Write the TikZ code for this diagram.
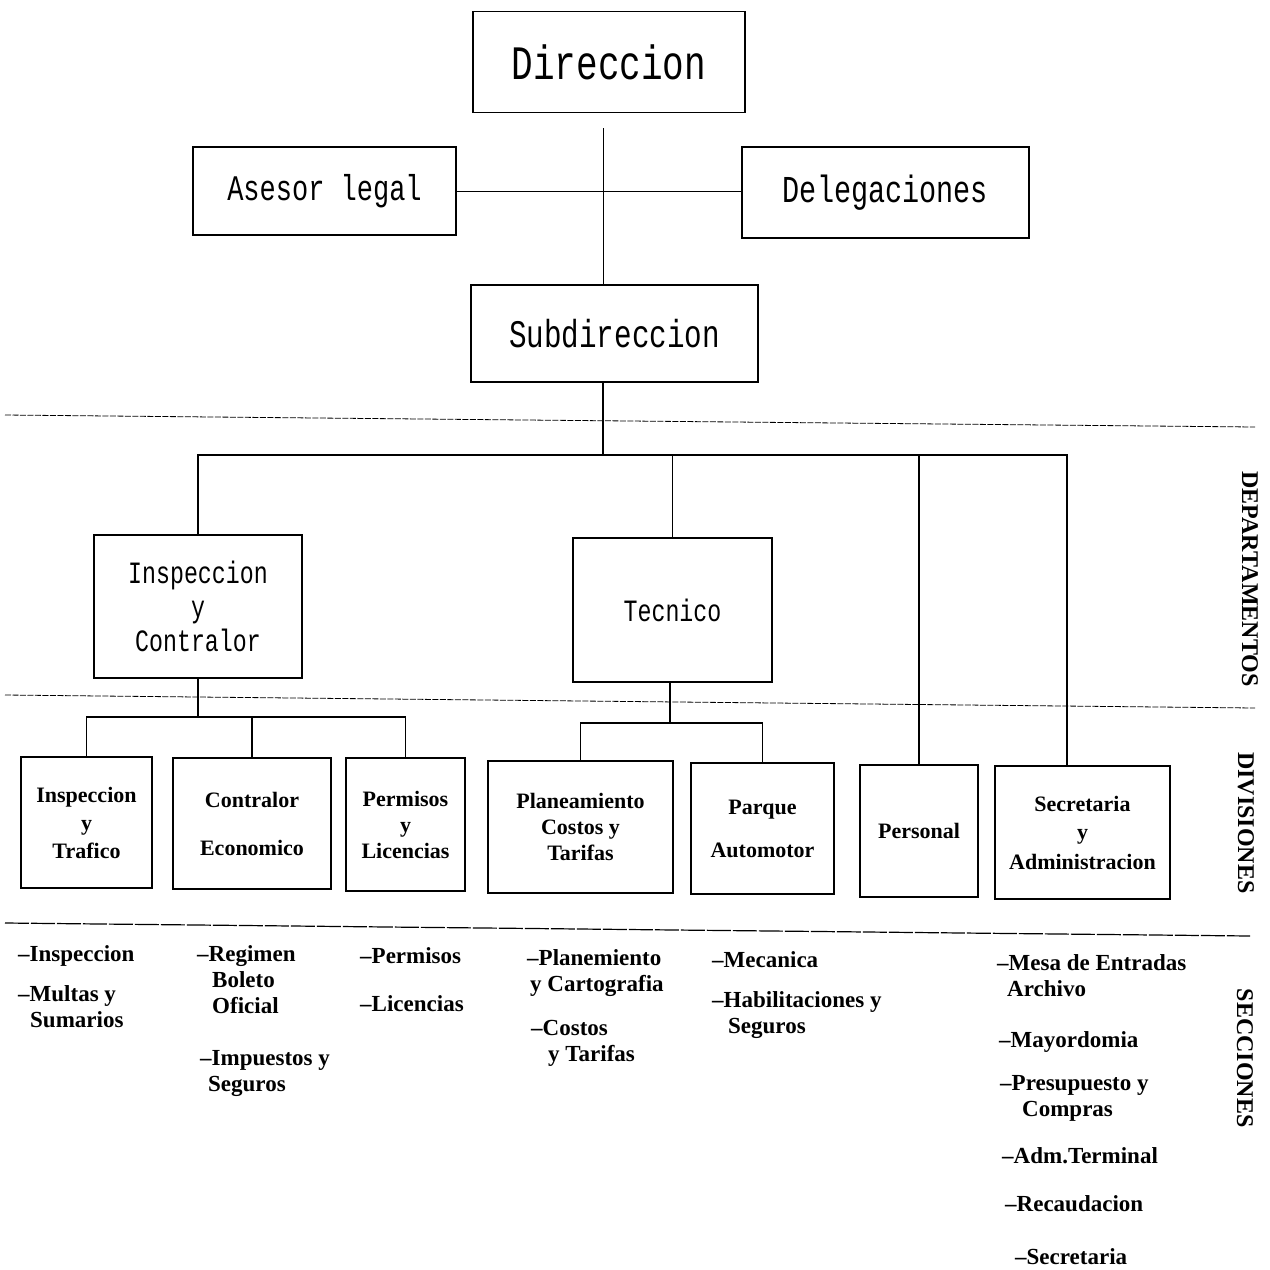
\documentclass[tikz,border=0pt]{standalone}
\usepackage{fontspec}
\setmainfont{Liberation Serif}
\newfontfamily\boxfont[FakeStretch=0.75]{Liberation Mono}
\usetikzlibrary{positioning}

\begin{document}
\begin{tikzpicture}[
  x=1pt, y=-1pt,
  topbox/.style  = {rectangle, draw, line width=1.6pt, align=center, inner sep=0pt},
  divbox/.style  = {rectangle, draw, line width=2pt, align=center, inner sep=0pt,
                    font=\bfseries\fontsize{22}{26}\selectfont},
  seccion/.style = {anchor=north west, align=left, inner sep=0pt,
                    font=\bfseries\fontsize{23}{26}\selectfont},
  nivel/.style   = {rotate=-90, inner sep=0pt, font=\bfseries\fontsize{24}{24}\selectfont},
  link/.style    = {line width=1.6pt},
  thinlink/.style = {line width=0.9pt},
  sepline/.style = {line width=0.8pt, dash pattern=on 6pt off 1.5pt}
]
\useasboundingbox (0,0) rectangle (1270,1270);

% Nodes
\node[topbox, minimum width=272, minimum height=101,
      font=\boxfont\fontsize{48}{48}\selectfont] (dir) at (609,62) {Direccion};
\node[topbox, minimum width=263, minimum height=88,
      font=\boxfont\fontsize{36}{36}\selectfont] (asesor) at (324.5,191) {Asesor legal};
\node[topbox, minimum width=287, minimum height=91,
      font=\boxfont\fontsize{38}{38}\selectfont] (deleg) at (885.5,192.5) {Delegaciones};
\node[topbox, minimum width=287, minimum height=97,
      font=\boxfont\fontsize{39}{39}\selectfont] (subdir) at (614.5,333.5) {Subdireccion};

\node[topbox, minimum width=208, minimum height=143,
      font=\boxfont\fontsize{31}{34}\selectfont] (insp) at (198,606.5) {Inspeccion\\y\\Contralor};
\node[topbox, minimum width=199, minimum height=144,
      font=\boxfont\fontsize{31}{34}\selectfont] (tec) at (672.5,610) {Tecnico};

% Divisiones
\node[divbox, minimum width=131, minimum height=131] (divInsp) at (86.5,822.5) {Inspeccion\\[2pt]y\\[2pt]Trafico};
\node[divbox, minimum width=158, minimum height=131] (divCont) at (252,823.5) {Contralor\\[22pt]Economico};
\node[divbox, minimum width=119, minimum height=133] (divPerm) at (405.5,824.5) {Permisos\\y\\Licencias};
\node[divbox, minimum width=185, minimum height=132] (divPlan) at (580.5,827) {Planeamiento\\Costos y\\Tarifas};
\node[divbox, minimum width=143, minimum height=131] (divParq) at (762.5,828.5) {Parque\\[17pt]Automotor};
\node[divbox, minimum width=118, minimum height=132] (divPers) at (919,831) {Personal};
\node[divbox, minimum width=175, minimum height=133] (divSecr) at (1082.5,832.5) {Secretaria\\[2pt]y\\[4pt]Administracion};

% Secciones
\node[seccion] (s1a) at (18,945) {--Inspeccion};
\node[seccion] (s1b) at (18,985) {--Multas y\\\hspace*{12pt}Sumarios};
\node[seccion] (s2a) at (197,945) {--Regimen\\\hspace*{15pt}Boleto\\\hspace*{15pt}Oficial};
\node[seccion] (s2b) at (200,1050) {--Impuestos y\\\hspace*{8pt}Seguros};
\node[seccion] (s3a) at (360,947) {--Permisos};
\node[seccion] (s3b) at (360,995) {--Licencias};
\node[seccion] (s4a) at (527,949) {--Planemiento\\\hspace*{3pt}y Cartografia};
\node[seccion] (s4b) at (531,1020) {--Costos\\\hspace*{17pt}y Tarifas};
\node[seccion] (s5a) at (712,951) {--Mecanica};
\node[seccion] (s5b) at (712,991) {--Habilitaciones y\\\hspace*{16pt}Seguros};
\node[seccion] (s6a) at (997,954) {--Mesa de Entradas\\\hspace*{10pt}Archivo};
\node[seccion] (s6b) at (999,1031) {--Mayordomia};
\node[seccion] (s6c) at (1000,1075) {--Presupuesto y\\\hspace*{22pt}Compras};
\node[seccion] (s6d) at (1002,1147) {--Adm.Terminal};
\node[seccion] (s6e) at (1005,1195) {--Recaudacion};
\node[seccion] (s6f) at (1015,1248) {--Secretaria};

% Level labels
\node[nivel] (lblDep) at (1250,579) {DEPARTAMENTOS};
\node[nivel] (lblDiv) at (1246,823) {DIVISIONES};
\node[nivel] (lblSec) at (1245,1058) {SECCIONES};

% Separators
\draw[sepline] (5,415) -- (1255,427);
\draw[sepline] (5,695) -- (1255,708);
\draw[sepline, line width=1.2pt, dash pattern=on 24pt off 2pt] (5,923) -- (1250,936);

% Top connectors
\coordinate (dirStem) at (603,128);
\draw[thinlink] (dirStem) -- (dirStem |- subdir.north);
\draw[thinlink] (asesor.east) -- (asesor.east -| deleg.west);

% Departamentos bus
\coordinate (bus) at (603,455);
\coordinate (busR) at (1067,455);
\draw[link] (subdir.south -| bus) -- (bus);
\draw[link] (insp.north) |- (busR) -- (busR |- divSecr.north);
\draw[link] (tec.north) -- (tec.north |- bus);
\draw[link] (divPers.north) -- (divPers.north |- bus);

% Divisiones buses
\coordinate (inspBus) at (198,717);
\draw[link] (insp.south) -- (inspBus);
\draw[link] (divInsp.north) |- (inspBus) -| (divPerm.north);
\draw[link] (divCont.north) -- (divCont.north |- inspBus);

\coordinate (tecBus) at (670,723);
\draw[link] (tec.south -| tecBus) -- (tecBus);
\draw[link] (divPlan.north) |- (tecBus) -| (divParq.north);

\end{tikzpicture}
\end{document}
